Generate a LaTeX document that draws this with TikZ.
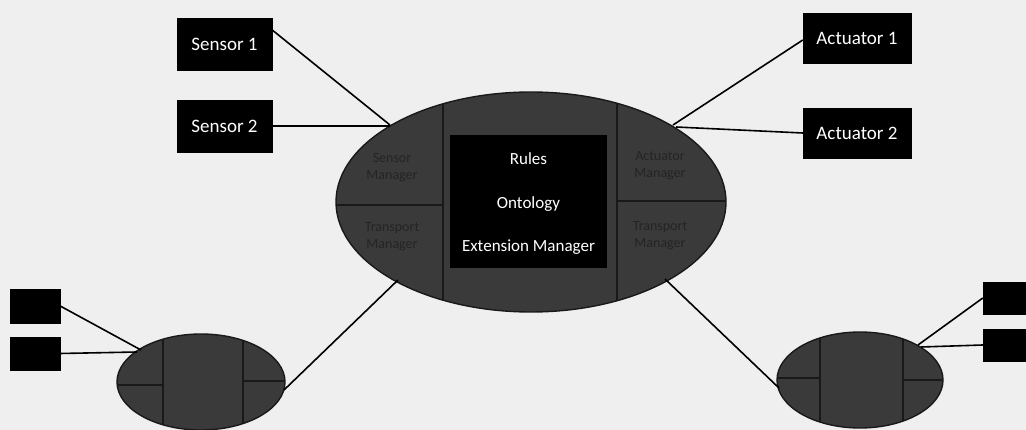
\documentclass[tikz,border=0pt]{standalone}
\usepackage{fontspec}
\setmainfont{Carlito}
\usetikzlibrary{shapes.geometric}
\definecolor{bg}{HTML}{EFEFEF}
\definecolor{ellfill}{HTML}{3A3A3A}
\definecolor{seclabel}{HTML}{242424}
\tikzset{
  blackbox/.style={fill=black, draw=black, text=white, inner sep=0pt, font=\fontsize{19}{21}\selectfont},
  conn/.style={draw=black, line width=1.6pt},
  ell/.style={fill=ellfill, draw=black!90, line width=1.4pt},
  divider/.style={draw=black!90, line width=1.4pt},
  seclbl/.style={text=seclabel, align=center, font=\fontsize{14}{17}\selectfont},
  corelbl/.style={text=white, font=\fontsize{17}{19}\selectfont}
}
\begin{document}
\begin{tikzpicture}[x=1pt,y=-1pt]
\useasboundingbox (0,0) rectangle (1026,430);
\fill[bg] (0,0) rectangle (1026,430);

% ---------------- main ellipse ----------------
\path[ell] (531,202) ellipse (195 and 110);
\begin{scope}
  \clip (531,202) ellipse (195 and 110);
  \draw[divider] (443,0) -- (443,430);
  \draw[divider] (617,0) -- (617,430);
  \draw[divider] (300,205) -- (443,205);
  \draw[divider] (617,201) -- (740,201);
  \node[seclbl] (sm) at (392,168) {Sensor\\Manager};
  \node[seclbl] (tml) at (392,237) {Transport\\Manager};
  \node[seclbl] (am) at (660,166) {Actuator\\Manager};
  \node[seclbl] (tmr) at (660,236) {Transport\\Manager};
\end{scope}
\node[fill=black, minimum width=157pt, minimum height=133pt, inner sep=0pt] (core) at (528.5,201.5) {};
\node[corelbl] (rules) at (528.5,159) {Rules};
\node[corelbl] (onto) at (528.5,204) {Ontology};
\node[corelbl] (ext) at (528.5,247) {Extension Manager};

% ---------------- bottom-left ellipse ----------------
\path[ell] (201,382) ellipse (84 and 48);
\begin{scope}
  \clip (201,382) ellipse (84 and 48);
  \draw[divider] (163,320) -- (163,440);
  \draw[divider] (243,320) -- (243,440);
  \draw[divider] (110,385) -- (163,385);
  \draw[divider] (243,381) -- (290,381);
\end{scope}

% ---------------- bottom-right ellipse ----------------
\path[ell] (860,380) ellipse (83 and 48);
\begin{scope}
  \clip (860,380) ellipse (83 and 48);
  \draw[divider] (820,320) -- (820,440);
  \draw[divider] (903,320) -- (903,440);
  \draw[divider] (770,378) -- (820,378);
  \draw[divider] (903,380) -- (950,380);
\end{scope}

% ---------------- boxes ----------------
\node[blackbox, minimum width=95pt, minimum height=52pt] (s1) at (224.5,44) {Sensor 1};
\node[blackbox, minimum width=95pt, minimum height=52pt] (s2) at (224.5,126) {Sensor 2};
\node[blackbox, minimum width=108pt, minimum height=50pt] (a1) at (857,38) {Actuator 1};
\node[blackbox, minimum width=108pt, minimum height=50pt] (a2) at (857,133) {Actuator 2};
\node[blackbox, minimum width=50pt, minimum height=34pt] (bl1) at (35,306) {};
\node[blackbox, minimum width=50pt, minimum height=33pt] (bl2) at (35,353.5) {};
\node[blackbox, minimum width=50pt, minimum height=32pt] (br1) at (1008,298) {};
\node[blackbox, minimum width=50pt, minimum height=32pt] (br2) at (1008,345) {};

% ---------------- connector end points ----------------
\coordinate (m1) at (390,125);
\coordinate (m2) at (390,126);
\coordinate (m3) at (673,125);
\coordinate (m4) at (676,127);
\coordinate (m5) at (398,280);
\coordinate (m6) at (665,279);
\coordinate (l1) at (141,350);
\coordinate (l2) at (137,352);
\coordinate (l3) at (284,390);
\coordinate (r1) at (918,345);
\coordinate (r2) at (921,347);
\coordinate (r3) at (779,388);

% ---------------- connectors ----------------
\draw[conn] (s1.east |- 0,30) -- (m1);
\draw[conn] (s2.east) -- (m2);
\draw[conn] (a1.west |- 0,40) -- (m3);
\draw[conn] (a2.west) -- (m4);
\draw[conn] (bl1.east) -- (l1);
\draw[conn] (bl2.east) -- (l2);
\draw[conn] (l3) -- (m5);
\draw[conn] (br1.west) -- (r1);
\draw[conn] (br2.west) -- (r2);
\draw[conn] (m6) -- (r3);
\end{tikzpicture}
\end{document}
